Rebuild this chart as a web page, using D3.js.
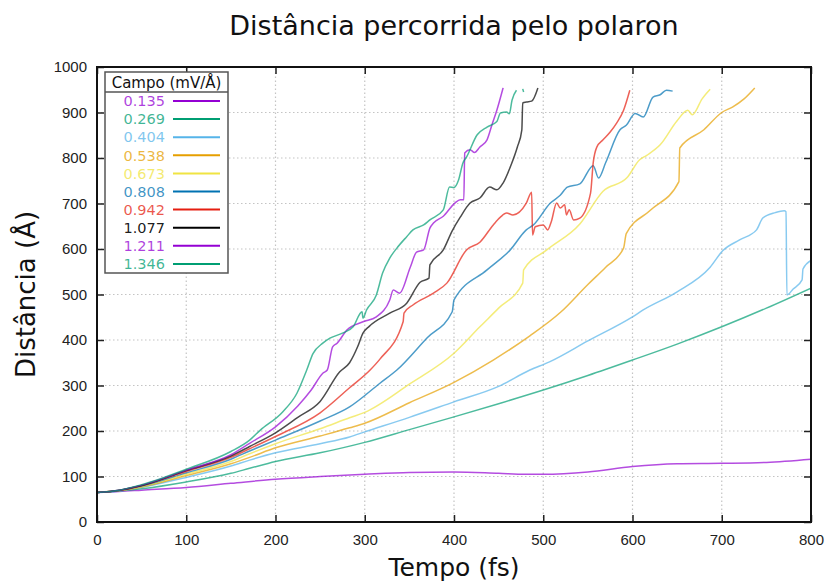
<!DOCTYPE html>
<html>
<head>
<meta charset="utf-8">
<script src="https://cdn.jsdelivr.net/npm/d3@7"></script>
<style>
  body { margin: 0; background: #fff; }
  svg { font-family: "DejaVu Sans", sans-serif; }
  .grid line { stroke: #c4c4c4; stroke-width: 1.2; stroke-dasharray: 1.5,2.5; }
  .axis text { font-size: 15px; fill: #222; }
  .axis line { stroke: #222; stroke-width: 1.5; }
</style>
</head>
<body>
<div id="chart"></div>
<script>
// campo eletrico (mV/Å) e cores
const fields = ['0.135', '0.269', '0.404', '0.538', '0.673', '0.808', '0.942', '1.077', '1.211', '1.346'];
const colors = ['#9400d3', '#009e73', '#56b4e9', '#e69f00', '#f0e442', '#0072b2', '#e51e10', '#000000', '#9400d3', '#009e73'];
const xTicks = [0, 100, 200, 300, 400, 500, 600, 700, 800];
const yTicks = [0, 100, 200, 300, 400, 500, 600, 700, 800, 900, 1000];

// [tempo (fs), distancia (Å)]
const s0135 = [[0,65],[25,67],[50,70],[100,76],[150,85],[200,94],[250,100],[300,105],[350,109],[400,110],[450,107],[480,105],[500,105],[550,110],[600,122],[650,128],[700,129],[750,131],[800,138]];
const s0269 = [[0,65],[25,68],[50,73],[100,88],[150,107],[171,118],[200,133],[250,152],[300,175],[350,203],[400,231],[450,260],[500,290],[550,322],[600,356],[650,391],[700,429],[750,470],[800,514]];
const s0404 = [[0,65],[25,68],[50,76],[100,98],[150,123],[171,136],[200,152],[250,172],[283,187],[300,198],[350,230],[400,264],[450,298],[485,334],[507,352],[550,398],[600,451],[612,466],[650,506],[687,560],[701,596],[720,620],[739,642],[746,668],[760,680],[770,684],[772,682],[773,499],[780,512],[790,532],[791,556],[801,576]];
const s0538 = [[0,65],[25,69],[50,77],[100,102],[150,128],[171,142],[200,163],[250,189],[283,207],[300,217],[350,262],[400,307],[444,356],[485,409],[520,462],[550,522],[570,560],[590,602],[593,634],[620,685],[652,748],[653,822],[680,862],[700,900],[712,912],[725,930],[737,954]];
const s0673 = [[0,65],[25,69],[50,78],[100,105],[150,133],[171,150],[200,172],[250,205],[283,229],[300,241],[350,303],[400,371],[429,429],[450,470],[477,525],[478,554],[504,598],[541,655],[567,727],[594,757],[608,796],[616,806],[631,829],[650,882],[662,905],[667,895],[678,930],[687,951]];
const s0808 = [[0,65],[25,69],[50,79],[100,108],[150,138],[171,156],[200,180],[250,222],[283,253],[317,305],[336,334],[370,405],[398,462],[400,488],[437,554],[463,598],[481,642],[489,653],[508,701],[519,718],[527,736],[541,743],[556,783],[562,756],[570,790],[586,862],[593,872],[603,898],[612,890],[623,934],[631,939],[638,949],[645,947]];
const s0942 = [[0,65],[25,69],[50,80],[100,111],[150,142],[171,161],[200,188],[250,240],[283,295],[306,334],[317,358],[343,440],[344,459],[354,477],[377,503],[392,525],[414,598],[429,615],[444,653],[452,670],[459,679],[466,675],[481,701],[487,725],[488,631],[491,649],[500,653],[505,642],[509,660],[515,701],[519,690],[524,697],[526,675],[529,686],[534,664],[541,668],[553,723],[556,790],[560,824],[567,840],[575,857],[582,876],[590,905],[597,949]];
const s1077 = [[0,65],[25,70],[50,80],[100,113],[150,145],[171,166],[200,196],[225,230],[250,265],[272,330],[283,350],[292,385],[298,415],[305,430],[328,459],[347,481],[362,527],[372,536],[373,565],[388,598],[398,640],[407,670],[418,701],[429,712],[440,736],[448,730],[455,745],[463,780],[471,824],[476,862],[477,921],[481,923],[487,925],[494,954]];
const s1211 = [[0,65],[25,70],[50,81],[100,114],[150,148],[171,173],[200,209],[225,255],[240,290],[253,327],[258,334],[264,385],[269,393],[280,422],[298,440],[313,451],[328,488],[332,510],[339,503],[351,560],[358,593],[366,598],[373,646],[377,657],[388,672],[401,701],[407,708],[411,708],[412,811],[418,818],[423,812],[429,824],[437,840],[443,876],[448,905],[455,954]];
const s1346 = [[0,65],[25,70],[50,82],[100,116],[150,155],[171,180],[183,202],[208,242],[224,283],[235,334],[242,370],[253,393],[261,404],[275,415],[287,429],[297,462],[298,448],[302,466],[313,499],[320,547],[328,580],[336,602],[347,627],[354,642],[366,653],[373,664],[388,686],[395,736],[400,735],[405,751],[410,789],[414,802],[426,851],[437,868],[448,880],[452,899],[459,901],[462,897],[465,927],[470,949],[472,NaN],[477,952],[478,945]];
const series = [s0135, s0269, s0404, s0538, s0673, s0808, s0942, s1077, s1211, s1346];

const W = 832, H = 583;
const margin = {left: 97, right: 21, top: 67, bottom: 61};

const svg = d3.select('#chart').append('svg')
  .attr('width', W).attr('height', H);

const x = d3.scaleLinear().domain([0, 800]).range([margin.left, W - margin.right]);
const y = d3.scaleLinear().domain([0, 1000]).range([H - margin.bottom, margin.top]);

// grade pontilhada
svg.append('g').attr('class', 'grid')
  .selectAll('line').data(xTicks.slice(1, -1)).join('line')
  .attr('x1', d => x(d)).attr('x2', d => x(d))
  .attr('y1', y(0)).attr('y2', y(1000));
svg.append('g').attr('class', 'grid')
  .selectAll('line').data(yTicks.slice(1, -1)).join('line')
  .attr('x1', x(0)).attr('x2', x(800))
  .attr('y1', d => y(d)).attr('y2', d => y(d));

// curvas
svg.append('clipPath').attr('id', 'plot')
  .append('rect')
  .attr('x', x(0)).attr('y', y(1000))
  .attr('width', x(800) - x(0)).attr('height', y(0) - y(1000));

const line = d3.line()
  .defined(d => !isNaN(d[1]))
  .curve(d3.curveMonotoneX)
  .x(d => x(d[0])).y(d => y(d[1]));

svg.append('g').attr('clip-path', 'url(#plot)')
  .selectAll('path').data(series).join('path')
  .attr('d', line)
  .attr('fill', 'none')
  .attr('stroke', (d, i) => colors[i])
  .attr('stroke-opacity', 0.7)
  .attr('stroke-width', 1.5)
  .attr('stroke-linejoin', 'round');

// eixos com marcas para dentro
svg.append('g').attr('class', 'axis')
  .attr('transform', `translate(0,${y(0)})`)
  .call(d3.axisBottom(x).tickValues(xTicks).tickSize(-7).tickPadding(12).tickFormat(d3.format('d')))
  .call(g => g.select('.domain').remove());
svg.append('g').attr('class', 'axis')
  .attr('transform', `translate(${x(0)},0)`)
  .call(d3.axisLeft(y).tickValues(yTicks).tickSize(-7).tickPadding(10).tickFormat(d3.format('d')))
  .call(g => g.select('.domain').remove());
svg.append('g').attr('class', 'axis')
  .attr('transform', `translate(0,${y(1000)})`)
  .call(d3.axisTop(x).tickValues(xTicks).tickSize(-7).tickFormat(''))
  .call(g => g.select('.domain').remove());
svg.append('g').attr('class', 'axis')
  .attr('transform', `translate(${x(800)},0)`)
  .call(d3.axisRight(y).tickValues(yTicks).tickSize(-7).tickFormat(''))
  .call(g => g.select('.domain').remove());

svg.append('rect')
  .attr('x', x(0)).attr('y', y(1000))
  .attr('width', x(800) - x(0)).attr('height', y(0) - y(1000))
  .attr('fill', 'none').attr('stroke', '#111').attr('stroke-width', 2);

// titulos
svg.append('text')
  .attr('x', (x(0) + x(800)) / 2).attr('y', 35)
  .attr('text-anchor', 'middle')
  .style('font-size', '27px').attr('fill', '#111')
  .text('Distância percorrida pelo polaron');
svg.append('text')
  .attr('x', (x(0) + x(800)) / 2).attr('y', 576)
  .attr('text-anchor', 'middle')
  .style('font-size', '25px').attr('fill', '#111')
  .text('Tempo (fs)');
svg.append('text')
  .attr('transform', `translate(35,${(y(0) + y(1000)) / 2}) rotate(-90)`)
  .attr('text-anchor', 'middle')
  .style('font-size', '26px').attr('fill', '#111')
  .text('Distância (Å)');

// legenda
const leg = svg.append('g').attr('transform', 'translate(105,72)');
leg.append('rect')
  .attr('width', 123).attr('height', 201)
  .attr('fill', '#fff').attr('stroke', '#555').attr('stroke-width', 1.5);
leg.append('line')
  .attr('x1', 0).attr('x2', 123).attr('y1', 20).attr('y2', 20)
  .attr('stroke', '#555').attr('stroke-width', 1.5);
leg.append('text')
  .attr('x', 61.5).attr('y', 15.5)
  .attr('text-anchor', 'middle')
  .style('font-size', '15px').attr('fill', '#111')
  .text('Campo (mV/Å)');

const rows = leg.selectAll('.row').data(fields).join('g')
  .attr('class', 'row')
  .attr('transform', (d, i) => `translate(0,${29 + i * 18.1})`);
rows.append('text')
  .attr('x', 60).attr('dy', '0.36em')
  .attr('text-anchor', 'end')
  .style('font-size', '14.5px')
  .attr('fill', (d, i) => colors[i])
  .attr('fill-opacity', (d, i) => i === 7 ? 0.9 : 0.75)
  .text(d => d);
rows.append('line')
  .attr('x1', 68).attr('x2', 115)
  .attr('stroke', (d, i) => colors[i])
  .attr('stroke-width', 2);
</script>
</body>
</html>
